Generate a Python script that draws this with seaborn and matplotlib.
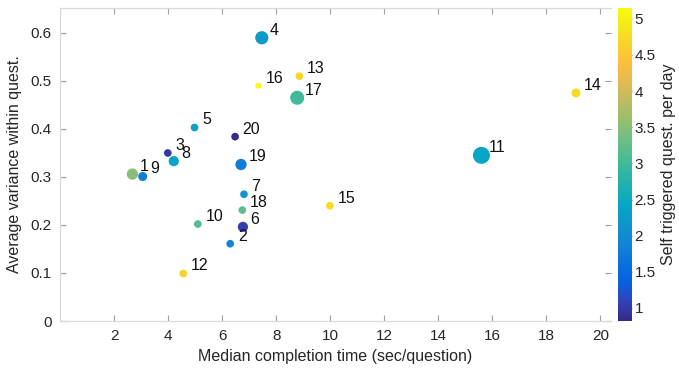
import numpy as np
import pandas as pd
import matplotlib
matplotlib.use("Agg")
import matplotlib.pyplot as plt
import seaborn as sns
from matplotlib.colors import LinearSegmentedColormap, Normalize
from matplotlib.cm import ScalarMappable

# participants 1..20
ids = list(range(1, 21))
median_time = [2.68, 6.30, 3.99, 7.47, 4.98, 6.77, 6.81, 4.21, 3.06, 5.10,
               15.6, 4.56, 8.86, 19.1, 9.99, 7.34, 8.78, 6.75, 6.70, 6.48]
avg_var = [0.306, 0.161, 0.350, 0.590, 0.403, 0.196, 0.264, 0.333, 0.301, 0.202,
           0.345, 0.099, 0.510, 0.475, 0.240, 0.490, 0.465, 0.231, 0.326, 0.384]
self_trig = [3.5, 1.9, 1.0, 2.25, 2.35, 1.05, 2.15, 2.4, 1.8, 3.15,
             2.4, 4.65, 4.7, 4.75, 4.75, 5.15, 3.0, 3.2, 1.8, 0.82]
n_quest = [10, 7, 7, 12, 7, 9, 7, 9, 8, 7,
           17, 7, 7, 8, 7, 6, 13, 7, 10, 7]

df = pd.DataFrame({"id": ids, "t": median_time, "v": avg_var,
                   "c": self_trig, "n": n_quest})

# parula (matlab) approximated from a subset of its entries
parula = LinearSegmentedColormap.from_list("parula", [
    (0 / 63, (0.2081, 0.1663, 0.5292)),
    (4 / 63, (0.1959, 0.2645, 0.7279)),
    (8 / 63, (0.0117, 0.3875, 0.8820)),
    (16 / 63, (0.0793, 0.5200, 0.8312)),
    (24 / 63, (0.0267, 0.6642, 0.7607)),
    (32 / 63, (0.2586, 0.7317, 0.5954)),
    (40 / 63, (0.5709, 0.7485, 0.4494)),
    (48 / 63, (0.8824, 0.7274, 0.3217)),
    (52 / 63, (0.9938, 0.7455, 0.2403)),
    (56 / 63, (0.9789, 0.8271, 0.1633)),
    (60 / 63, (0.9598, 0.9218, 0.0948)),
    (63 / 63, (0.9763, 0.9831, 0.0538))])

sns.set_style("white")
plt.rcParams['font.family'] = ['Liberation Sans', 'DejaVu Sans']

fig = plt.figure(figsize=(6.79, 3.73), dpi=100)
ax = fig.add_axes([0.0884, 0.1394, 0.8116, 0.8392])
cax = fig.add_axes([0.910, 0.1394, 0.0206, 0.8392])

cmin, cmax = min(self_trig), max(self_trig)
norm = Normalize(cmin, cmax)
sns.scatterplot(data=df, x="t", y="v", hue="c", palette=parula,
                hue_norm=(cmin, cmax), size="n",
                sizes=((0.72 * min(n_quest)) ** 2, (0.72 * max(n_quest)) ** 2),
                size_norm=(min(n_quest), max(n_quest)),
                linewidth=0, legend=False, ax=ax)

for i, t, v in zip(ids, median_time, avg_var):
    ax.annotate(str(i), (t, v), xytext=(5.5, 5.5), textcoords="offset points",
                ha="left", va="center", fontsize=11.5, color="#111111")

ax.set_xlim(0, 20.4)
ax.set_ylim(0, 0.652)
ax.set_xticks(np.arange(2, 21, 2))
ax.set_yticks(np.arange(0, 0.61, 0.1))
ax.set_yticklabels(["0", "0.1", "0.2", "0.3", "0.4", "0.5", "0.6"])
ax.set_xlabel("Median completion time (sec/question)", fontsize=11.5,
              color="#262626", labelpad=4)
ax.set_ylabel("Average variance within quest.", fontsize=11.5,
              color="#262626", labelpad=6)
for side in ["left", "bottom", "top"]:
    ax.spines[side].set_color("#d9d9d9")
    ax.spines[side].set_linewidth(0.9)
ax.spines["right"].set_visible(False)
ax.tick_params(direction="in", length=4, width=0.8, color="#a0a0a0",
               labelsize=11, labelcolor="#262626", top=True, right=True,
               bottom=True, left=True, pad=6)

sm = ScalarMappable(norm=norm, cmap=parula)
cb = fig.colorbar(sm, cax=cax)
cb.set_ticks([1, 1.5, 2, 2.5, 3, 3.5, 4, 4.5, 5])
cb.set_ticklabels(["1", "1.5", "2", "2.5", "3", "3.5", "4", "4.5", "5"])
cb.outline.set_visible(False)
cax.tick_params(direction="in", length=3, width=0.8, color="#808080",
                labelsize=11, labelcolor="#262626", pad=2)
cb.set_label("Self triggered quest. per day", fontsize=11.5, color="#262626",
             labelpad=4)

fig.savefig("out.png", dpi=100)
